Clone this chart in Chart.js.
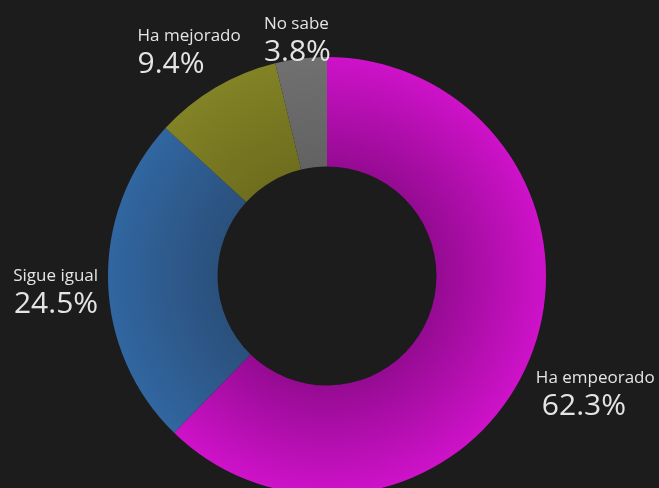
<!DOCTYPE html>
<html>
<head>
<meta charset="utf-8">
<script src="https://cdn.jsdelivr.net/npm/chart.js@4"></script>
<style>
  html, body { margin: 0; padding: 0; background: #1c1c1c; overflow: hidden; }
  canvas { display: block; }
</style>
</head>
<body>
<canvas id="c" width="659" height="552"></canvas>
<script>
// data
const categories = ["Ha empeorado", "Sigue igual", "Ha mejorado", "No sabe"]
const values = [62.3, 24.5, 9.4, 3.8]
const valueLabels = ["62.3%", "24.5%", "9.4%", "3.8%"]

// colours: inner edge -> outer edge of the ring
const innerColors = ["#950b92", "#2b507c", "#6e6e1e", "#626262"]
const outerColors = ["#ce12c9", "#3166a0", "#828226", "#707070"]

// label placement relative to the middle of each slice's outer edge
const labelNudge = [
  { dx: 6, dy: 24, align: "left", numDx: 6 },
  { dx: -10, dy: -1, align: "right", numDx: 0 },
  { dx: -78, dy: -46, align: "left", numDx: 0 },
  { dx: -37, dy: -30, align: "left", numDx: 0 }
]

function ringGradient(context) {
  const chart = context.chart
  const a = chart.chartArea
  const i = context.dataIndex
  if (!a) return outerColors[i]
  const cx = (a.left + a.right) / 2
  const cy = (a.top + a.bottom) / 2
  const r = Math.min(a.right - a.left, a.bottom - a.top) / 2
  const g = chart.ctx.createRadialGradient(cx, cy, r * 0.5, cx, cy, r)
  g.addColorStop(0, innerColors[i])
  g.addColorStop(1, outerColors[i])
  return g
}

const labelPlugin = {
  id: "sliceLabels",
  afterDraw(chart) {
    const ctx = chart.ctx
    const arcs = chart.getDatasetMeta(0).data
    ctx.save()
    ctx.fillStyle = "#e4e4e4"
    ctx.textBaseline = "alphabetic"
    arcs.forEach((arc, i) => {
      const p = arc.getProps(["x", "y", "startAngle", "endAngle", "outerRadius"], true)
      const mid = (p.startAngle + p.endAngle) / 2
      const ax = p.x + Math.cos(mid) * p.outerRadius
      const ay = p.y + Math.sin(mid) * p.outerRadius
      const n = labelNudge[i]
      ctx.textAlign = n.align
      ctx.font = "17px 'Open Sans'"
      ctx.fillText(categories[i], ax + n.dx, ay + n.dy)
      ctx.font = "30px 'Open Sans'"
      ctx.fillText(valueLabels[i], ax + n.dx + n.numDx, ay + n.dy + 32)
    })
    ctx.restore()
  }
}

new Chart(document.getElementById("c"), {
  type: "doughnut",
  data: {
    labels: categories,
    datasets: [{
      data: values,
      backgroundColor: ringGradient,
      borderWidth: 0
    }]
  },
  options: {
    responsive: false,
    animation: false,
    devicePixelRatio: 1,
    cutout: "50%",
    layout: { padding: { top: 57, bottom: 57, left: 108, right: 113 } },
    plugins: {
      legend: { display: false },
      tooltip: { enabled: false }
    }
  },
  plugins: [labelPlugin]
})
</script>
</body>
</html>
